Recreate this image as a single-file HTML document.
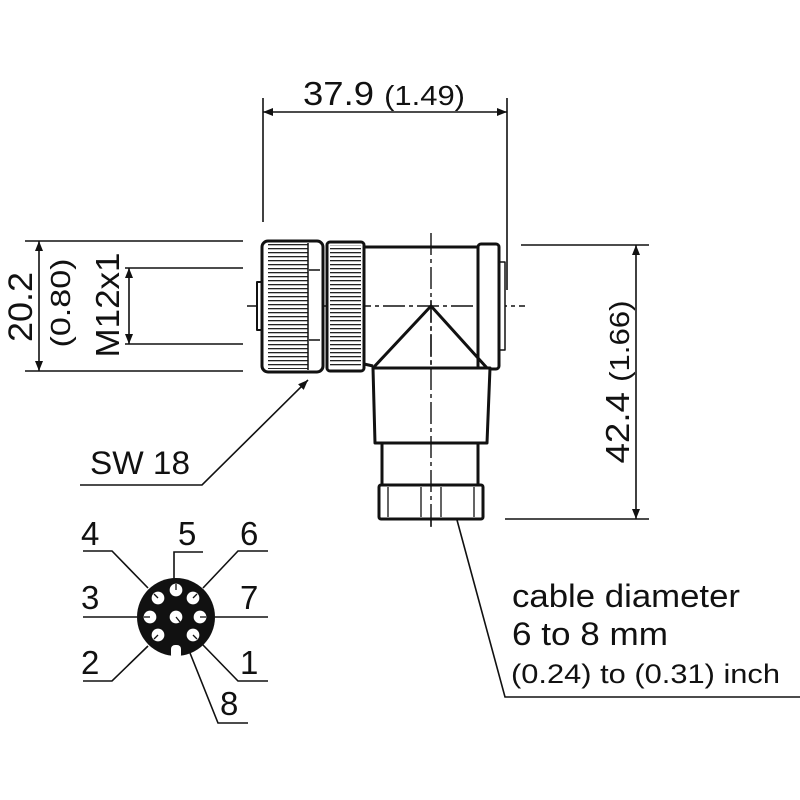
<!DOCTYPE html>
<html><head><style>body{margin:0;background:#fff}svg{display:block}text{font-family:"Liberation Sans",sans-serif;fill:#111}</style></head><body>
<svg width="800" height="800" viewBox="0 0 800 800" xmlns="http://www.w3.org/2000/svg">
<defs>
<marker id="a" viewBox="0 0 10 10" refX="10" refY="5" markerWidth="14" markerHeight="10" markerUnits="userSpaceOnUse" orient="auto-start-reverse"><path d="M0,1 L10,5 L0,9z" fill="#111"/></marker>
<pattern id="k" width="4" height="4" patternUnits="userSpaceOnUse"><rect width="4" height="4" fill="#fff"/><rect y="0" width="4" height="1.3" fill="#222"/></pattern>
</defs>
<g stroke="#111" stroke-width="1.6" fill="none">
<line x1="263" y1="98" x2="263" y2="222"/>
<line x1="507" y1="98" x2="507" y2="290"/>
<line x1="263" y1="112" x2="507" y2="112" marker-start="url(#a)" marker-end="url(#a)"/>
<line x1="25" y1="241" x2="243" y2="241"/>
<line x1="25" y1="371" x2="243" y2="371"/>
<line x1="39" y1="241" x2="39" y2="371" marker-start="url(#a)" marker-end="url(#a)"/>
<line x1="125" y1="268" x2="243" y2="268"/>
<line x1="125" y1="344" x2="243" y2="344"/>
<line x1="129" y1="268" x2="129" y2="344" marker-start="url(#a)" marker-end="url(#a)"/>
<line x1="521" y1="245" x2="649" y2="245"/>
<line x1="505" y1="519" x2="649" y2="519"/>
<line x1="636" y1="245" x2="636" y2="519" marker-start="url(#a)" marker-end="url(#a)"/>
<polyline points="80,485 202,485 308,380" marker-end="url(#a)"/>
<polyline points="457,520 505,697 800,697"/>
</g>
<g stroke="#111" stroke-width="1.4" stroke-dasharray="22,4,4,4">
<line x1="431" y1="233" x2="431" y2="530"/>
<line x1="247" y1="306" x2="525" y2="306"/>
</g>
<g stroke="#111" stroke-width="3" fill="#fff" stroke-linejoin="round">
<rect x="257" y="282" width="6" height="48" stroke-width="2"/>
<rect x="262" y="241" width="61" height="131" rx="6"/>
<rect x="268" y="244" width="40" height="125" fill="url(#k)" stroke="none"/>
<line x1="308" y1="243" x2="308" y2="370" stroke-width="1.5"/>
<line x1="309" y1="270" x2="320" y2="270" stroke-width="1.5"/>
<line x1="309" y1="340" x2="320" y2="340" stroke-width="1.5"/>
<rect x="327" y="242" width="37" height="129" rx="3"/>
<rect x="330" y="245" width="31" height="123" fill="url(#k)" stroke="none"/>
<polyline points="364,247 479,247"/>
<polyline points="364,364 373,366"/>
<rect x="499" y="262" width="6" height="88" stroke-width="1.5"/>
<rect x="478" y="244" width="21" height="125" rx="3"/>
<polygon points="373,368 490,368 487,443 375,443"/>
<polygon points="373,368 431,306 487,368" fill="none"/>
<rect x="382" y="443" width="96" height="42"/>
<rect x="379" y="485" width="104" height="34" rx="2"/>
<g stroke-width="1.3"><line x1="388" y1="487" x2="388" y2="517"/><line x1="421" y1="487" x2="421" y2="517"/><line x1="441" y1="487" x2="441" y2="517"/><line x1="474" y1="487" x2="474" y2="517"/></g>
</g>
<g stroke="#111" stroke-width="1.4" stroke-dasharray="22,4,4,4"><line x1="431" y1="300" x2="431" y2="530"/></g>
<g stroke="#111" stroke-width="1.6" fill="none">
<polyline points="83,551 112,551 148,588"/>
<polyline points="174,580 174,552 203,552"/>
<polyline points="268,551 238,551 203,588"/>
<line x1="83" y1="617" x2="137" y2="617"/>
<line x1="215" y1="617" x2="268" y2="617"/>
<polyline points="83,681 112,681 148,646"/>
<polyline points="268,681 238,681 203,645"/>
<polyline points="190,653 218,723 248,723"/>
</g>
<circle cx="176" cy="617" r="39" fill="#111"/>
<rect x="171" y="645" width="10" height="14" rx="4" fill="#fff"/>
<g fill="#fff" stroke="#111" stroke-width="1.3">
<circle cx="176" cy="590" r="7"/><circle cx="158" cy="598" r="7"/><circle cx="193" cy="598" r="7"/>
<circle cx="150" cy="617" r="7"/><circle cx="176" cy="617" r="7"/><circle cx="200" cy="617" r="7"/>
<circle cx="158" cy="635" r="7"/><circle cx="193" cy="635" r="7"/>
</g>
<g stroke="#111" stroke-width="1.3">
<line x1="176" y1="590" x2="176" y2="584"/><line x1="158" y1="598" x2="154" y2="594"/><line x1="193" y1="598" x2="197" y2="594"/>
<line x1="150" y1="617" x2="144" y2="617"/><line x1="176" y1="617" x2="180" y2="622"/><line x1="200" y1="617" x2="206" y2="617"/>
<line x1="158" y1="635" x2="154" y2="639"/><line x1="193" y1="635" x2="197" y2="639"/>
</g>
<g font-size="33">
<text x="81" y="545">4</text><text x="178" y="545">5</text><text x="240" y="545">6</text>
<text x="81" y="609">3</text><text x="240" y="609">7</text>
<text x="81" y="674">2</text><text x="240" y="674">1</text><text x="220" y="715">8</text>
</g>
<text x="303" y="105" font-size="33" textLength="162" lengthAdjust="spacingAndGlyphs">37.9 <tspan font-size="28">(1.49)</tspan></text>
<text transform="translate(32,307) rotate(-90)" text-anchor="middle" font-size="34" textLength="70" lengthAdjust="spacingAndGlyphs">20.2</text>
<text transform="translate(70,303) rotate(-90)" text-anchor="middle" font-size="28" textLength="89" lengthAdjust="spacingAndGlyphs">(0.80)</text>
<text transform="translate(119,305) rotate(-90)" text-anchor="middle" font-size="33" textLength="105" lengthAdjust="spacingAndGlyphs">M12x1</text>
<text transform="translate(629,382) rotate(-90)" text-anchor="middle" font-size="33" textLength="163" lengthAdjust="spacingAndGlyphs">42.4 <tspan font-size="28">(1.66)</tspan></text>
<text x="90" y="474" font-size="32" textLength="100" lengthAdjust="spacingAndGlyphs">SW 18</text>
<text x="512" y="607" font-size="32" textLength="228" lengthAdjust="spacingAndGlyphs">cable diameter</text>
<text x="512" y="645" font-size="32" textLength="156" lengthAdjust="spacingAndGlyphs">6 to 8 mm</text>
<text x="511" y="683" font-size="27" textLength="269" lengthAdjust="spacingAndGlyphs">(0.24) to (0.31) inch</text>
</svg>
</body></html>
